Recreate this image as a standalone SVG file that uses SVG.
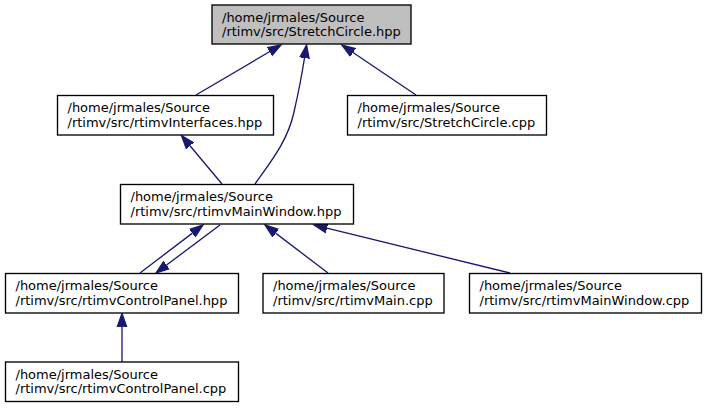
<svg xmlns="http://www.w3.org/2000/svg" width="708" height="409" viewBox="0 0 708 409">
<defs>
<style>
.box{fill:#ffffff;stroke:#000000;stroke-width:1.33}
.cur{fill:#bfbfbf;stroke:#000000;stroke-width:1.33}
.t{font-family:"DejaVu Sans","Liberation Sans",sans-serif;font-size:13px;fill:#000000}
.e{fill:none;stroke:#191970;stroke-width:1.33}
</style>
<marker id="ah" markerUnits="userSpaceOnUse" markerWidth="16" markerHeight="12" viewBox="0 -6 16 12" refX="0" refY="0" orient="auto">
<path d="M0,-4.67 L13.3,0 L0,4.67 z" fill="#191970" stroke="#191970" stroke-width="1.33"/>
</marker>
</defs>
<rect width="708" height="409" fill="#ffffff"/>
<g id="edges">
<line class="e" x1="196" y1="95" x2="269.5" y2="51.7" marker-end="url(#ah)"/>
<path class="e" d="M255,184 C272,160 288,140 294,112 C299,90 302,74 304.5,58" marker-end="url(#ah)"/>
<line class="e" x1="416" y1="95" x2="353" y2="52.5" marker-end="url(#ah)"/>
<line class="e" x1="222" y1="184" x2="190" y2="145.7" marker-end="url(#ah)"/>
<line class="e" x1="140" y1="273" x2="192.4" y2="233.1" marker-end="url(#ah)"/>
<line class="e" x1="220" y1="225" x2="166.6" y2="265" marker-end="url(#ah)"/>
<line class="e" x1="328" y1="273" x2="275.6" y2="233.1" marker-end="url(#ah)"/>
<line class="e" x1="510" y1="273" x2="326.9" y2="228.2" marker-end="url(#ah)"/>
<line class="e" x1="122" y1="362" x2="122" y2="326.8" marker-end="url(#ah)"/>
</g>
<g id="n_stretchcircle_hpp">
<rect class="cur" x="212" y="5" width="199" height="39"/>
<text class="t" x="222" y="21.5">/home/jrmales/Source</text>
<text class="t" x="222" y="36">/rtimv/src/StretchCircle.hpp</text>
</g>
<g id="n_rtimvinterfaces_hpp">
<rect class="box" x="57.5" y="95.5" width="216" height="39.5"/>
<text class="t" x="67.5" y="112">/home/jrmales/Source</text>
<text class="t" x="67.5" y="126.5">/rtimv/src/rtimvInterfaces.hpp</text>
</g>
<g id="n_stretchcircle_cpp">
<rect class="box" x="347.5" y="95.5" width="199" height="39.5"/>
<text class="t" x="357.5" y="112">/home/jrmales/Source</text>
<text class="t" x="357.5" y="126.5">/rtimv/src/StretchCircle.cpp</text>
</g>
<g id="n_rtimvmainwindow_hpp">
<rect class="box" x="120.5" y="184.5" width="233" height="39.5"/>
<text class="t" x="130.5" y="201">/home/jrmales/Source</text>
<text class="t" x="130.5" y="215.5">/rtimv/src/rtimvMainWindow.hpp</text>
</g>
<g id="n_rtimvcontrolpanel_hpp">
<rect class="box" x="5.5" y="273.5" width="233" height="39.5"/>
<text class="t" x="15.5" y="290">/home/jrmales/Source</text>
<text class="t" x="15.5" y="304.5">/rtimv/src/rtimvControlPanel.hpp</text>
</g>
<g id="n_rtimvmain_cpp">
<rect class="box" x="263" y="273.5" width="181" height="39.5"/>
<text class="t" x="273" y="290">/home/jrmales/Source</text>
<text class="t" x="273" y="304.5">/rtimv/src/rtimvMain.cpp</text>
</g>
<g id="n_rtimvmainwindow_cpp">
<rect class="box" x="469.5" y="273.5" width="232" height="39.5"/>
<text class="t" x="479.5" y="290">/home/jrmales/Source</text>
<text class="t" x="479.5" y="304.5">/rtimv/src/rtimvMainWindow.cpp</text>
</g>
<g id="n_rtimvcontrolpanel_cpp">
<rect class="box" x="5.5" y="362" width="233" height="39.5"/>
<text class="t" x="15.5" y="378.5">/home/jrmales/Source</text>
<text class="t" x="15.5" y="393">/rtimv/src/rtimvControlPanel.cpp</text>
</g>
</svg>
